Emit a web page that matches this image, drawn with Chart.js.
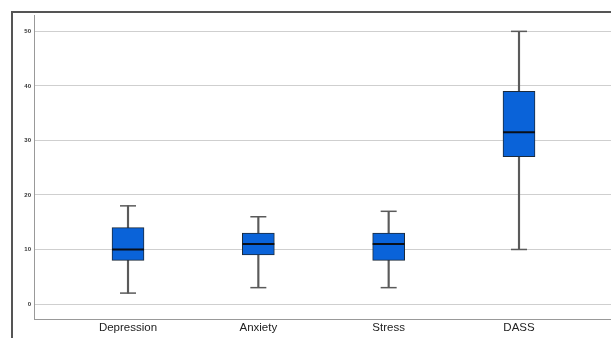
<!DOCTYPE html>
<html lang="en">
  <head>
    <meta charset="utf-8" />
    <title>Box plot</title>
    <style>
      * {
        margin: 0;
        padding: 0;
      }
      body {
        width: 611px;
        height: 338px;
        overflow: hidden;
        background: #fff;
        position: relative;
      }
      .frame {
        position: absolute;
        left: 11px;
        top: 11px;
        width: 640px;
        height: 360px;
        border-left: 2px solid #555;
        border-top: 2px solid #555;
      }
      .chartBox {
        position: absolute;
        left: 0;
        top: 0;
        width: 611px;
        height: 338px;
      }
    </style>
  </head>
  <body>
    <div class="frame"></div>
    <div class="chartBox">
      <canvas id="myChart" width="611" height="338"></canvas>
    </div>

    <script src="https://cdn.jsdelivr.net/npm/chart.js@4/dist/chart.umd.min.js"></script>

    <script>
      const categories = ["Depression", "Anxiety", "Stress", "DASS"];
      const minValues = [2, 3, 3, 10];
      const q1Values = [8, 9, 8, 27];
      const medianValues = [10, 11, 11, 31.5];
      const q3Values = [14, 13, 13, 39];
      const maxValues = [18, 16, 17, 50];
      const yTicks = [0, 10, 20, 30, 40, 50];

      const pos = categories.map((c, i) => i + 1);

      // data block
      const data = {
        datasets: [
          {
            type: "bar",
            label: "whisker",
            data: pos.map((x, i) => ({ x: x, y: [minValues[i], maxValues[i]] })),
            backgroundColor: "#5a5a5a",
            barThickness: 1.5,
            grouped: false,
            order: 4,
          },
          {
            type: "bar",
            label: "box",
            data: pos.map((x, i) => ({ x: x, y: [q1Values[i], q3Values[i]] })),
            backgroundColor: "#0a63d9",
            borderColor: "#1c2a3a",
            borderWidth: 1,
            borderSkipped: false,
            barThickness: 32,
            grouped: false,
            order: 3,
          },
          {
            type: "scatter",
            label: "median",
            data: pos.map((x, i) => ({ x: x, y: medianValues[i] })),
            pointStyle: "line",
            pointRadius: 16,
            pointHoverRadius: 16,
            borderColor: "#0a0f18",
            borderWidth: 2,
            order: 1,
          },
          {
            type: "scatter",
            label: "caps",
            data: pos
              .map((x, i) => ({ x: x, y: minValues[i] }))
              .concat(pos.map((x, i) => ({ x: x, y: maxValues[i] }))),
            pointStyle: "line",
            pointRadius: 8,
            pointHoverRadius: 8,
            borderColor: "#5a5a5a",
            borderWidth: 1.5,
            order: 2,
          },
        ],
      };

      // config block
      const config = {
        type: "bar",
        data: data,
        options: {
          responsive: false,
          animation: false,
          layout: {
            autoPadding: false,
            padding: { top: 15, left: 0, right: 0, bottom: 0 },
          },
          plugins: {
            legend: { display: false },
            tooltip: { enabled: false },
          },
          scales: {
            x: {
              type: "linear",
              min: 0.2787,
              max: 4.7059,
              offset: false,
              afterBuildTicks: (scale) => {
                scale.ticks = pos.map((v) => ({ value: v }));
              },
              afterFit: (scale) => {
                scale.height = 19;
              },
              ticks: {
                padding: 2,
                color: "#222",
                font: { family: "Liberation Sans", size: 11.5 },
                maxRotation: 0,
                autoSkip: false,
                callback: (v) => categories[v - 1],
              },
              grid: { display: false, drawTicks: false },
              border: { color: "#999", width: 1 },
            },
            y: {
              min: -2.75,
              max: 53,
              afterBuildTicks: (scale) => {
                scale.ticks = yTicks.map((v) => ({ value: v }));
              },
              afterFit: (scale) => {
                scale.width = 34;
              },
              ticks: {
                padding: 3,
                color: "#333",
                font: { family: "Liberation Sans", size: 6, weight: "bold" },
              },
              grid: { color: "#cfcfcf", lineWidth: 1, drawTicks: false },
              border: { color: "#999", width: 1 },
            },
          },
        },
      };

      // init render block
      const myChart = new Chart(document.getElementById("myChart"), config);
    </script>
  </body>
</html>
